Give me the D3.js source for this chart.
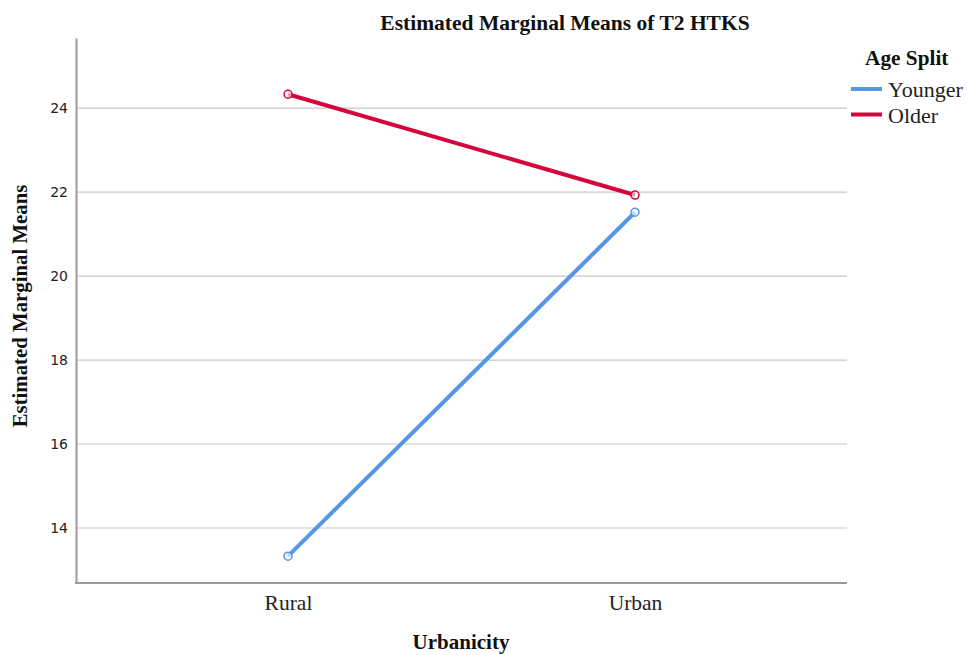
<!DOCTYPE html>
<html><head><meta charset="utf-8">
<script src="https://cdn.jsdelivr.net/npm/d3@7/dist/d3.min.js"></script>
<style>body{margin:0;background:#fff}svg{display:block}</style>
</head><body>
<script>
const categories = ["Rural", "Urban"];
const seriesNames = ["Younger", "Older"];
const younger = [13.33, 21.52];
const older = [24.33, 21.93];
const yTicks = [14, 16, 18, 20, 22, 24];
const colors = ["#5596e6", "#d5053c"];

(function () {
const W = 967, H = 655;
const svg = d3.select("body").append("svg").attr("width", W).attr("height", H);
const pLeft = 76, pRight = 847, pTop = 38, pBottom = 583;

const xs = d3.scalePoint().domain(categories).range([288, 635]);
const y = d3.scaleLinear().domain([12.69, 25.67]).range([pBottom, pTop]);

// gridlines
svg.append("g").selectAll("line").data(yTicks).join("line")
  .attr("x1", pLeft).attr("x2", pRight)
  .attr("y1", d => y(d)).attr("y2", d => y(d))
  .attr("stroke", "#c8c8c8").attr("stroke-width", 1.2);

// y axis
const yAxis = d3.axisLeft(y).tickValues(yTicks).tickSize(0).tickPadding(8);
const gy = svg.append("g").attr("transform", `translate(${pLeft},0)`).call(yAxis);
gy.select(".domain").attr("stroke", "#9a9a9a").attr("stroke-width", 2);
gy.selectAll("text").attr("font-family", "DejaVu Sans").attr("font-size", 14).attr("fill", "#222");

// x axis
const xAxis = d3.axisBottom(xs).tickSize(0).tickPadding(12);
const gx = svg.append("g").attr("transform", `translate(0,${pBottom})`).call(xAxis);
gx.select(".domain").remove();
svg.append("line").attr("x1", pLeft - 1).attr("x2", pRight).attr("y1", pBottom).attr("y2", pBottom)
  .attr("stroke", "#9a9a9a").attr("stroke-width", 2);
gx.selectAll("text").attr("font-family", "Liberation Serif").attr("font-size", 21.5).attr("fill", "#222");

// lines
const series = [younger, older];
const line = d3.line().x((d, i) => xs(categories[i])).y(d => y(d));
series.forEach((s, k) => {
  svg.append("path").datum(s).attr("d", line).attr("fill", "none")
    .attr("stroke", colors[k]).attr("stroke-width", 4);
  svg.append("g").selectAll("circle").data(s).join("circle")
    .attr("cx", (d, i) => xs(categories[i])).attr("cy", d => y(d)).attr("r", 4)
    .attr("fill", "#fff").attr("fill-opacity", 0.6).attr("stroke", colors[k]).attr("stroke-width", 1.5);
});

// title
svg.append("text").attr("x", 565).attr("y", 30).attr("text-anchor", "middle")
  .attr("font-family", "Liberation Serif").attr("font-weight", "bold").attr("font-size", 21.5)
  .attr("fill", "#111").text("Estimated Marginal Means of T2 HTKS");

// axis titles
svg.append("text").attr("x", 461).attr("y", 649).attr("text-anchor", "middle")
  .attr("font-family", "Liberation Serif").attr("font-weight", "bold").attr("font-size", 21)
  .attr("fill", "#111").text("Urbanicity");
svg.append("text").attr("transform", "translate(27,306) rotate(-90)").attr("text-anchor", "middle")
  .attr("font-family", "Liberation Serif").attr("font-weight", "bold").attr("font-size", 20.8)
  .attr("fill", "#111").text("Estimated Marginal Means");

// legend
svg.append("text").attr("x", 865).attr("y", 65)
  .attr("font-family", "Liberation Serif").attr("font-weight", "bold").attr("font-size", 21.3)
  .attr("fill", "#111").text("Age Split");
seriesNames.forEach((n, k) => {
  const ly = 89 + k * 25.5;
  svg.append("line").attr("x1", 851).attr("x2", 882).attr("y1", ly).attr("y2", ly)
    .attr("stroke", colors[k]).attr("stroke-width", 4);
  svg.append("text").attr("x", 888).attr("y", ly + 8)
    .attr("font-family", "Liberation Serif").attr("font-size", 22)
    .attr("fill", "#222").text(n);
});
})();
</script>
</body></html>
